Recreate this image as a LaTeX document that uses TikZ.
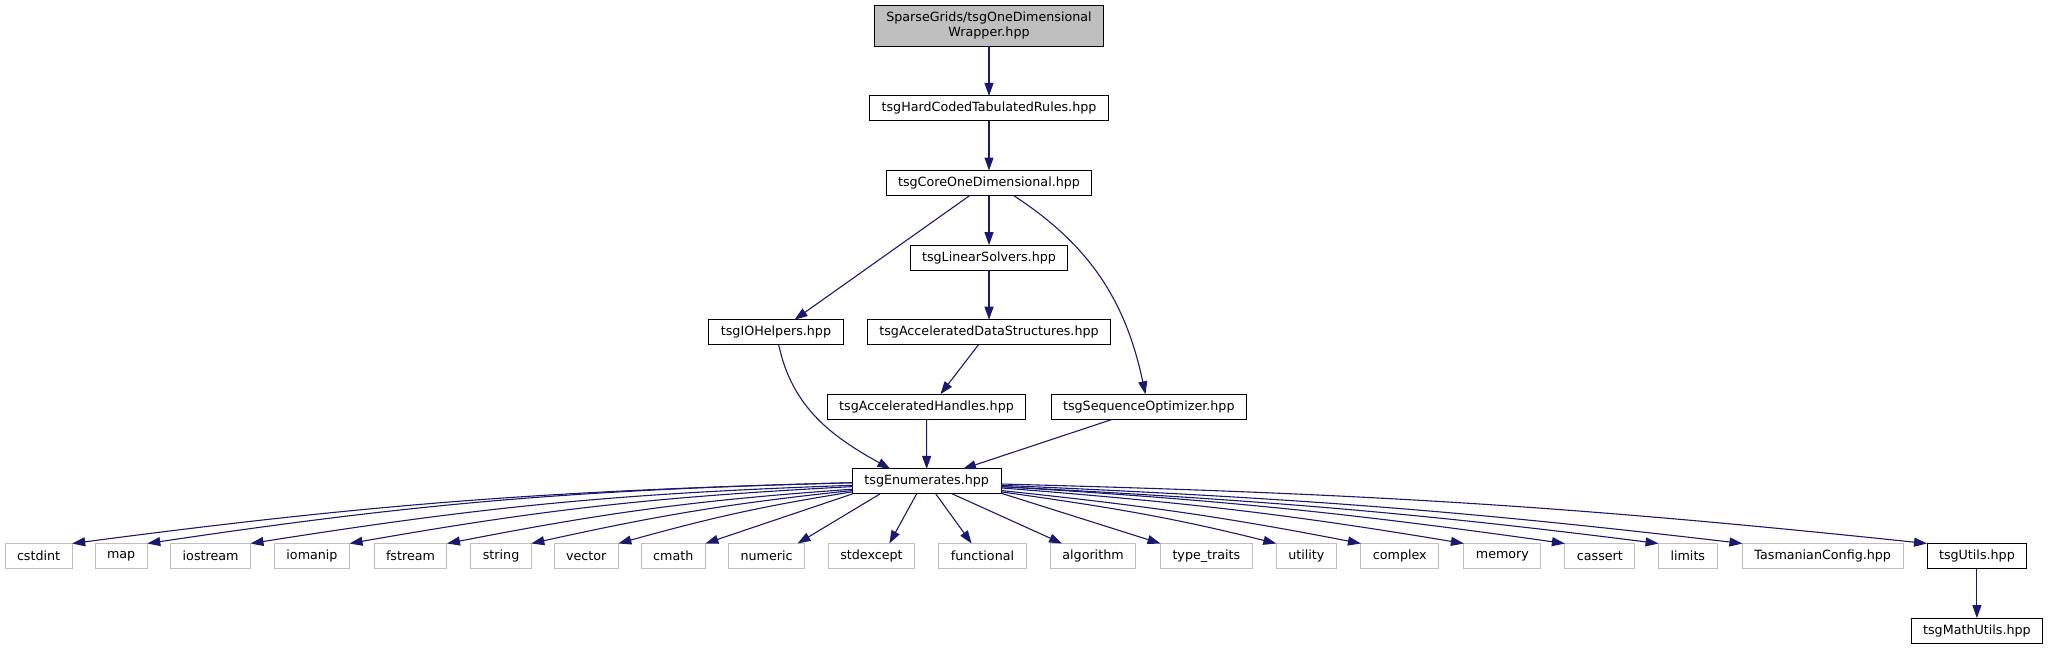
\documentclass[tikz,border=0pt]{standalone}
\usepackage{fontspec}
\setmainfont{DejaVu Sans}
\usetikzlibrary{arrows.meta,positioning}
\definecolor{edgeblue}{HTML}{191970}
\definecolor{grey75}{HTML}{BFBFBF}

\begin{document}
\begin{tikzpicture}[
    x=1pt, y=1pt,
    font=\fontsize{12.7}{15}\selectfont,
    node distance=49.6pt,
    inc/.style={draw, fill=white, line width=1pt, inner xsep=12pt, inner ysep=0pt, minimum height=25pt, outer sep=0pt},
    hdr/.style={inc, fill=grey75, align=center, minimum height=41pt},
    sys/.style={inc, draw=grey75},
    dep/.style={draw=edgeblue, line width=1.1pt, -{Triangle[length=13pt, width=9pt]}}
]
\useasboundingbox (0,0) rectangle (2049,-649);

\node[hdr] (wrap) at (989,-25.8) {SparseGrids/tsgOneDimensional\\Wrapper.hpp};
\node[inc, below=of wrap] (hard) {tsgHardCodedTabulatedRules.hpp};
\node[inc, below=of hard] (core) {tsgCoreOneDimensional.hpp};
\node[inc, below=of core] (linsolve) {tsgLinearSolvers.hpp};
\node[inc, below=of linsolve] (accds) {tsgAcceleratedDataStructures.hpp};
\node[inc] (ioh) at (776,-332.2) {tsgIOHelpers.hpp};
\node[inc] (acch) at (926.5,-406.8) {tsgAcceleratedHandles.hpp};
\node[inc] (seqopt) at (1148.8,-406.8) {tsgSequenceOptimizer.hpp};
\node[inc] (enums) at (926.7,-481.4) {tsgEnumerates.hpp};

\node[sys] (cstd) at (38.6,-556) {cstdint};
\node[sys] (map) at (121.2,-556) {map};
\node[sys] (ios) at (210.6,-556) {iostream};
\node[sys] (iom) at (312,-556) {iomanip};
\node[sys] (fstr) at (410.5,-556) {fstream};
\node[sys] (str) at (501.1,-556) {string};
\node[sys] (vec) at (586.2,-556) {vector};
\node[sys] (cmath) at (673.3,-556) {cmath};
\node[sys] (num) at (766.6,-556) {numeric};
\node[sys] (stdx) at (871.5,-556) {stdexcept};
\node[sys] (func) at (982.5,-556) {functional};
\node[sys] (algo) at (1093,-556) {algorithm};
\node[sys] (ttr) at (1206.4,-556) {type\_traits};
\node[sys] (util) at (1306.4,-556) {utility};
\node[sys] (cplx) at (1399.8,-556) {complex};
\node[sys] (mem) at (1502.4,-556) {memory};
\node[sys] (cass) at (1599.9,-556) {cassert};
\node[sys] (lim) at (1687.8,-556) {limits};
\node[sys] (tcfg) at (1822.7,-556) {TasmanianConfig.hpp};
\node[inc] (utils) at (1976.9,-556) {tsgUtils.hpp};
\node[inc, below=of utils] (mutils) {tsgMathUtils.hpp};

\draw[dep] (wrap) -- (hard);
\draw[dep] (hard) -- (core);
\draw[dep] (core) -- (linsolve);
\draw[dep] (linsolve) -- (accds);
\draw[dep] (core.213) -- (ioh.34);
\draw[dep] (core.-27.5) to[out=-33, in=102] (seqopt.105);
\draw[dep] (accds.230) -- (acch.42);
\draw[dep] (ioh.282) to[out=-78, in=151] (enums.161);
\draw[dep] (acch) -- (enums);
\draw[dep] (seqopt.199) -- (enums.19);

\draw[dep] (enums.181.5) to[out=181.5, in=7.5] (cstd.north east);
\draw[dep] (enums.181.5) to[out=181.5, in=8.5] (map.north east);
\draw[dep] (enums.183) to[out=182, in=9] (ios.north east);
\draw[dep] (enums.184.6) to[out=183, in=10] (iom.north east);
\draw[dep] (enums.186.2) to[out=184, in=11] (fstr.north east);
\draw[dep] (enums.187.3) to[out=186, in=12.5] (str.north east);
\draw[dep] (enums.188.5) to[out=189, in=15.5] (vec.north east);
\draw[dep] (enums.south west) -- (cmath.north east);
\draw[dep] (enums.195) -- (num.22);
\draw[dep] (enums.231) -- (stdx.35);
\draw[dep] (enums.306.6) -- (func.131);
\draw[dep] (enums.334.8) -- (algo.158);
\draw[dep] (enums.351.5) -- (ttr.north west);
\draw[dep] (enums.352.7) to[out=-8, in=166] (util.north west);
\draw[dep] (enums.353.8) to[out=-6, in=169] (cplx.north west);
\draw[dep] (enums.355) to[out=-4.5, in=170.5] (mem.north west);
\draw[dep] (enums.356.1) to[out=-3.5, in=172] (cass.north west);
\draw[dep] (enums.356.9) to[out=-3, in=172.8] (lim.north west);
\draw[dep] (enums.357.7) to[out=-2.5, in=173.3] (tcfg.north west);
\draw[dep] (enums.358.5) to[out=-1.5, in=174] (utils.north west);
\draw[dep] (utils) -- (mutils);
\end{tikzpicture}
\end{document}
